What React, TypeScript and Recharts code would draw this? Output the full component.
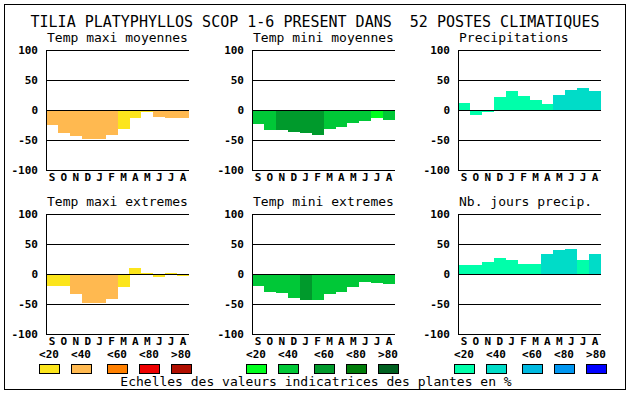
import React from 'react';
import { BarChart, Bar, XAxis, YAxis, Cell, ReferenceLine } from 'recharts';

const FONT = '"DejaVu Sans Mono", "Liberation Mono", monospace';

const months = ['S', 'O', 'N', 'D', 'J', 'F', 'M', 'A', 'M', 'J', 'J', 'A'];
const yTicks = [-100, -50, 0, 50, 100];
const legendLabels = ['<20', '<40', '<60', '<80', '>80'];

const warmColors = ['#fce51c', '#ffb950', '#ff8000', '#ee0000', '#b00e00'];
const greenColors = ['#00ff1e', '#00c837', '#009a2c', '#007d0a', '#006020'];
const blueColors = ['#00ffaa', '#00dcc8', '#00b9e0', '#0096f0', '#0000ff'];

// values (%) and class index (1 = <20 ... 5 = >80)
const tmaxMoyValues = [-25, -38, -44, -48, -48, -41, -31, -13, -4, -11, -13, -14];
const tmaxMoyClasses = [2, 2, 2, 2, 2, 2, 1, 1, 1, 2, 2, 2];

const tminMoyValues = [-24, -34, -34, -37, -38, -41, -31, -28, -22, -18, -14, -16];
const tminMoyClasses = [2, 2, 3, 3, 3, 3, 2, 2, 2, 2, 1, 2];

const precipValues = [12, -8, -3, 22, 32, 23, 17, 10, 25, 33, 37, 32];
const precipClasses = [1, 1, 1, 1, 1, 1, 1, 1, 2, 2, 2, 2];

const tmaxExtValues = [-20, -20, -34, -48, -48, -42, -22, 10, 2, -5, 2, -4];
const tmaxExtClasses = [1, 1, 2, 2, 2, 2, 1, 1, 1, 1, 1, 1];

const tminExtValues = [-20, -30, -32, -40, -43, -43, -34, -30, -22, -14, -15, -17];
const tminExtClasses = [2, 2, 2, 2, 3, 2, 2, 2, 2, 2, 2, 2];

const nbJoursValues = [15, 15, 20, 27, 24, 17, 17, 34, 40, 42, 24, 34];
const nbJoursClasses = [1, 1, 1, 1, 1, 1, 1, 2, 2, 2, 1, 2];

const mainTitle = 'TILIA PLATYPHYLLOS SCOP 1-6 PRESENT DANS  52 POSTES CLIMATIQUES';
const footer = 'Echelles des valeurs indicatrices des plantes en %';

const PLOT_W = 143;
const PLOT_H = 120;
const Y_AXIS_W = 40;
const M_TOP = 10;
const M_RIGHT = 5;
const X_AXIS_H = 20;

type PanelProps = {
  title: string;
  values: number[];
  classes: number[];
  palette: string[];
  left: number;
  top: number;
};

function Panel({ values, classes, palette, left, top }: PanelProps) {
  const data = values.map((v, i) => ({ i, v, c: classes[i] }));
  const w = Y_AXIS_W + PLOT_W + M_RIGHT;
  const h = M_TOP + PLOT_H + X_AXIS_H;
  return (
    <div style={{ position: 'absolute', left: left - Y_AXIS_W, top: top - M_TOP, width: w, height: h }}>
      <BarChart
        width={w}
        height={h}
        data={data}
        margin={{ top: M_TOP, right: M_RIGHT, left: 0, bottom: 0 }}
        barCategoryGap={0}
        barGap={0}
      >
        <XAxis
          dataKey="i"
          type="category"
          interval={0}
          tickFormatter={(i: number) => months[i]}
          axisLine={false}
          tickLine={false}
          tickSize={0}
          tickMargin={3}
          height={X_AXIS_H}
          tick={{ fill: '#000', fontSize: 11, fontWeight: 'bold', fontFamily: FONT }}
        />
        <YAxis
          domain={[-100, 100]}
          ticks={yTicks}
          interval={0}
          width={Y_AXIS_W}
          axisLine={{ stroke: '#000' }}
          tickLine={false}
          tickSize={0}
          tickMargin={8}
          tick={{ fill: '#000', fontSize: 11, fontWeight: 'bold', fontFamily: FONT }}
        />
        <YAxis
          yAxisId="r"
          orientation="right"
          domain={[-100, 100]}
          width={0}
          tick={false}
          tickLine={false}
          axisLine={{ stroke: '#000' }}
        />
        <Bar dataKey="v" isAnimationActive={false}>
          {data.map((d, i) => (
            <Cell key={i} fill={palette[d.c - 1]} />
          ))}
        </Bar>
        {yTicks.map((t) => (
          <ReferenceLine key={t} y={t} stroke="#000" strokeWidth={1} ifOverflow="visible" />
        ))}
      </BarChart>
    </div>
  );
}

const cols = [46, 252, 458];
const rows = [50, 214];
const legendStarts = [39, 246, 454];
const legendOffsets = [0, 32, 68, 100, 132];

export default function App() {
  const panels: PanelProps[] = [
    { title: 'Temp maxi moyennes', values: tmaxMoyValues, classes: tmaxMoyClasses, palette: warmColors, left: cols[0], top: rows[0] },
    { title: 'Temp mini moyennes', values: tminMoyValues, classes: tminMoyClasses, palette: greenColors, left: cols[1], top: rows[0] },
    { title: 'Precipitations', values: precipValues, classes: precipClasses, palette: blueColors, left: cols[2], top: rows[0] },
    { title: 'Temp maxi extremes', values: tmaxExtValues, classes: tmaxExtClasses, palette: warmColors, left: cols[0], top: rows[1] },
    { title: 'Temp mini extremes', values: tminExtValues, classes: tminExtClasses, palette: greenColors, left: cols[1], top: rows[1] },
    { title: 'Nb. jours precip.', values: nbJoursValues, classes: nbJoursClasses, palette: blueColors, left: cols[2], top: rows[1] },
  ];
  const palettes = [warmColors, greenColors, blueColors];
  return (
    <div
      style={{
        position: 'absolute',
        left: 0,
        top: 0,
        width: 630,
        height: 394,
        background: '#fff',
        shapeRendering: 'crispEdges',
      }}
    >
      <svg width={630} height={394} style={{ position: 'absolute', left: 0, top: 0 }}>
        <rect x={4} y={4} width={621} height={385} fill="#fff" stroke="#000" strokeWidth={1} />
        <text x={315} y={27} textAnchor="middle" fontFamily={FONT} fontSize={15} fill="#000">
          {mainTitle.replace(/ /g, '\u00a0')}
        </text>
        {panels.map((p, k) => (
          <text
            key={k}
            x={p.left + 1}
            y={p.top === rows[0] ? 42 : 206}
            fontFamily={FONT}
            fontSize={13}
            fill="#000"
          >
            {p.title}
          </text>
        ))}
        {legendStarts.map((s, g) =>
          legendOffsets.map((o, j) => (
            <g key={`${g}-${j}`}>
              <text
                x={s + o + 10}
                y={358}
                textAnchor="middle"
                fontFamily={FONT}
                fontSize={11}
                fontWeight="bold"
                fill="#000"
              >
                {legendLabels[j]}
              </text>
              <rect x={s + o + 0.5} y={364.5} width={20} height={9} fill={palettes[g][j]} stroke="#000" strokeWidth={1} />
            </g>
          ))
        )}
        <text x={316} y={386} textAnchor="middle" fontFamily={FONT} fontSize={13} fill="#000">
          {footer}
        </text>
      </svg>
      {panels.map((p, k) => (
        <Panel key={k} {...p} />
      ))}
    </div>
  );
}
